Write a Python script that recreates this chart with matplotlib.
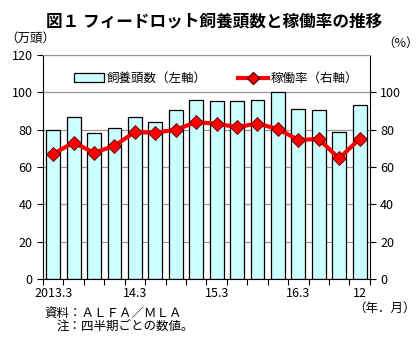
import matplotlib
matplotlib.use("Agg")
import matplotlib.pyplot as plt
from matplotlib.lines import Line2D
from matplotlib.patches import Patch

plt.rcParams['font.family'] = ['Noto Sans CJK JP', 'DejaVu Sans']

quarters = ["2013.3", "", "", "", "14.3", "", "", "", "15.3", "", "", "",
            "16.3", "", "", "12"]
heads = [80, 86.9, 78.4, 81.1, 86.9, 84.2, 90.7, 95.9, 95.4, 95.4, 95.9,
         100, 91.2, 90.7, 78.9, 93.3]
rate = [67.1, 73.1, 67.7, 71.4, 78.8, 78.4, 80.0, 84.1, 83.2, 81.4, 83.3,
        80.4, 74.6, 75.0, 64.6, 75.2]

fig = plt.figure(figsize=(4.19, 3.42), dpi=100)
ax = fig.add_axes([0.1026, 0.184, 0.780, 0.655])
x = list(range(len(heads)))

ax.bar(x, heads, width=0.68, color="#CCFFFF", edgecolor="black", linewidth=0.9, zorder=2)
ax.set_xlim(-0.5, len(heads) - 0.5)
ax.set_ylim(0, 120)
ax.set_yticks(range(0, 121, 20))
ax.grid(axis="y", color="#999999", linewidth=0.9, zorder=0)
ax.set_axisbelow(True)
ax.set_xticks([i - 0.5 for i in range(len(heads) + 1)])
ax.set_xticklabels([])
ax.set_xticks(x, minor=True)
ax.set_xticklabels(quarters, minor=True)
ax.tick_params(axis="x", which="major", direction="out", length=4, width=0.8)
ax.tick_params(axis="x", which="minor", length=0, pad=6, labelsize=9)
ax.tick_params(axis="y", direction="out", length=4, width=0.8, labelsize=9)
ax.spines["top"].set_color("#999999")
for s in ["left", "right", "bottom"]:
    ax.spines[s].set_color("black")

ax2 = ax.twinx()
ax2.plot(x, rate, color="#FF0000", linewidth=3, marker="D", markersize=7,
         markerfacecolor="#FF0000", markeredgecolor="#550000", markeredgewidth=0.6, zorder=3)
ax2.set_ylim(0, 120)
ax2.set_yticks(range(0, 101, 20))
ax2.tick_params(axis="y", direction="out", length=4, width=0.8, labelsize=9)
for s in ["top", "left", "right", "bottom"]:
    ax2.spines[s].set_visible(False)

handles = [Patch(facecolor="#CCFFFF", edgecolor="black", linewidth=0.9),
           Line2D([0], [0], color="#FF0000", linewidth=3, marker="D", markersize=6,
                  markerfacecolor="#FF0000", markeredgecolor="#550000")]
ax.legend(handles, ["飼養頭数（左軸）", "稼働率（右軸）"], loc="upper center",
          bbox_to_anchor=(0.53, 0.975), ncol=2, frameon=False, fontsize=9,
          handlelength=2.4, columnspacing=2.5, handletextpad=0.2)

fig.text(0.51, 0.938, "図１ フィードロット飼養頭数と稼働率の推移", ha="center", va="center",
         fontsize=12, fontweight="bold")
fig.text(0.012, 0.888, "（万頭）", ha="left", va="center", fontsize=9)
fig.text(0.955, 0.873, "（%）", ha="center", va="center", fontsize=9)
fig.text(0.992, 0.100, "（年．月）", ha="right", va="center", fontsize=9)
fig.text(0.105, 0.085, "資料：ＡＬＦＡ／ＭＬＡ", ha="left", va="center", fontsize=9)
fig.text(0.135, 0.045, "注：四半期ごとの数値。", ha="left", va="center", fontsize=9)

fig.savefig("out.png", dpi=100)
